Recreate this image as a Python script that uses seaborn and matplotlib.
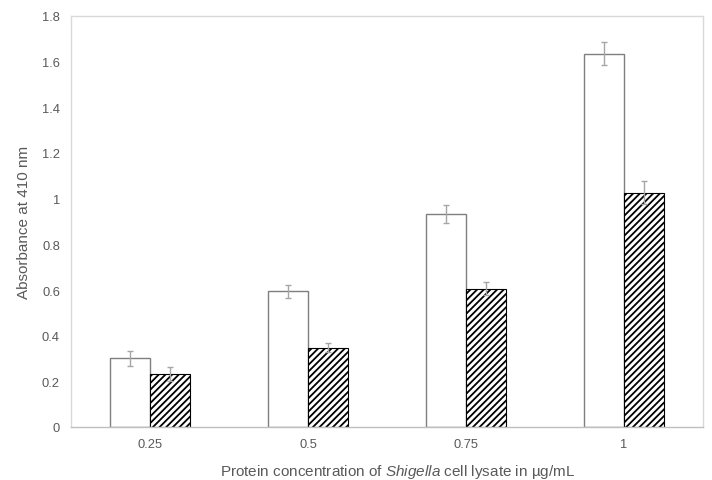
import matplotlib
matplotlib.use("Agg")
import matplotlib.pyplot as plt
import seaborn as sns
import pandas as pd

concentrations = ["0.25", "0.5", "0.75", "1"]
series_names = ["A", "B"]
values_a = [0.302, 0.595, 0.932, 1.635]
values_b = [0.232, 0.347, 0.606, 1.026]
errors_a = [0.033, 0.028, 0.040, 0.051]
errors_b = [0.030, 0.020, 0.029, 0.050]
yticks = [0, 0.2, 0.4, 0.6, 0.8, 1, 1.2, 1.4, 1.6, 1.8]
ytick_labels = ["0", "0.2", "0.4", "0.6", "0.8", "1", "1.2", "1.4", "1.6", "1.8"]

df = pd.DataFrame({
    "conc": concentrations * 2,
    "series": [series_names[0]] * 4 + [series_names[1]] * 4,
    "value": values_a + values_b,
    "err": errors_a + errors_b,
})

sns.set_style("white")
plt.rcParams["font.family"] = ["Liberation Sans", "DejaVu Sans"]
plt.rcParams["mathtext.fontset"] = "custom"
plt.rcParams["mathtext.rm"] = "Liberation Sans"
plt.rcParams["mathtext.it"] = "Liberation Sans:italic"
plt.rcParams["hatch.linewidth"] = 1.3
plt.rcParams["hatch.color"] = "black"

fig = plt.figure(figsize=(7.12, 4.81), dpi=100)
ax = fig.add_axes([71 / 712, 53 / 481, 632 / 712, 411 / 481])

sns.barplot(data=df, x="conc", y="value", hue="series", order=concentrations,
            hue_order=series_names, palette=["white", "white"], width=0.506,
            gap=0, errorbar=None, legend=False, ax=ax, zorder=2)

patches = [p for p in ax.patches]
errs = errors_a + errors_b
for i, p in enumerate(patches):
    if i < 4:
        p.set_facecolor("white")
        p.set_edgecolor("#7f7f7f")
        p.set_linewidth(1.0)
    else:
        p.set_facecolor("white")
        p.set_edgecolor("black")
        p.set_hatch("/////")
        p.set_linewidth(0.8)
    cx = p.get_x() + p.get_width() / 2
    ax.errorbar(cx, p.get_height(), yerr=errs[i], fmt="none",
                ecolor="#a6a6a6", elinewidth=1.0, capsize=2.4, capthick=1.0, zorder=3)

ax.set_xlim(-0.5, len(concentrations) - 0.5)
ax.set_ylim(0, 1.8)
ax.set_yticks(yticks)
ax.set_yticklabels(ytick_labels)
ax.tick_params(axis="both", length=0, labelsize=9.3, colors="#595959")
ax.tick_params(axis="y", pad=8)
ax.tick_params(axis="x", pad=8)

for s in ax.spines.values():
    s.set_color("#d9d9d9")
    s.set_linewidth(1.0)
ax.spines["bottom"].set_color("#bfbfbf")

ax.set_xlabel("Protein concentration of $\\it{Shigella}$ cell lysate in µg/mL",
              fontsize=11, color="#595959", labelpad=6)
ax.xaxis.set_label_coords((398 - 71) / 632, -0.085)
ax.set_ylabel("Absorbance at 410 nm", fontsize=11, color="#595959", labelpad=8)

fig.savefig("out.png", dpi=100)
